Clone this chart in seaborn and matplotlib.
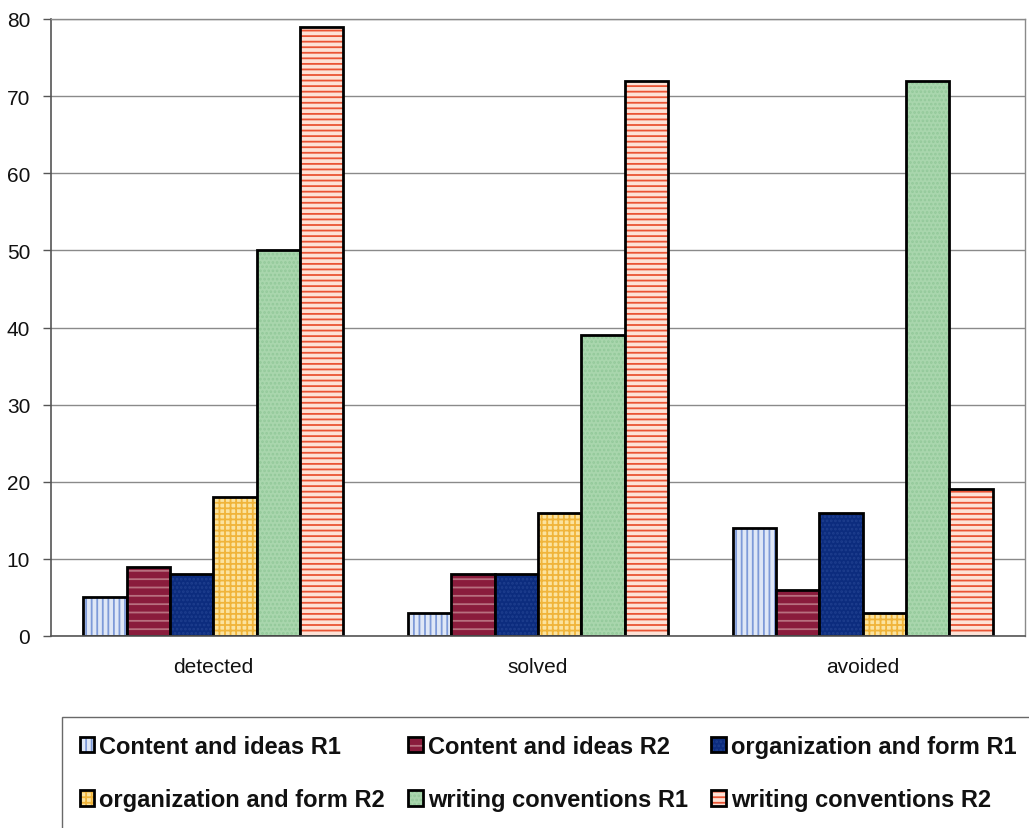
import matplotlib
matplotlib.use("Agg")
import matplotlib.pyplot as plt
import seaborn as sns
import pandas as pd

categories = ["detected", "solved", "avoided"]
series = ["Content and ideas R1", "Content and ideas R2", "organization and form R1",
          "organization and form R2", "writing conventions R1", "writing conventions R2"]
content_r1 = [5, 3, 14]
content_r2 = [9, 8, 6]
org_r1 = [8, 8, 16]
org_r2 = [18, 16, 3]
writing_r1 = [50, 39, 72]
writing_r2 = [79, 72, 19]
yticks = [0, 10, 20, 30, 40, 50, 60, 70, 80]

values = [content_r1, content_r2, org_r1, org_r2, writing_r1, writing_r2]
rows = []
for s, vals in zip(series, values):
    for c, v in zip(categories, vals):
        rows.append({"category": c, "series": s, "value": v})
df = pd.DataFrame(rows)

face_colors = ["#dfe7f6", "#8a1c3c", "#0c2c7e", "#fbe3a0", "#a9d6ad", "#fde2d6"]
hatch_colors = ["#7e9ad8", "#b8707f", "#1e3e8e", "#f0b43a", "#93c99a", "#ea5434"]
hatches = ["|||", "--", "....", "+++", "....", "---"]

sns.set_style("white")
plt.rcParams["font.family"] = ["Liberation Sans", "DejaVu Sans"]
plt.rcParams["hatch.linewidth"] = 1.3

fig = plt.figure(figsize=(10.29, 8.29), dpi=100, facecolor="white")
ax = fig.add_axes([51 / 1029, 1 - 637 / 829, (1025 - 51) / 1029, (637 - 20) / 829])

sns.barplot(data=df, x="category", y="value", hue="series", order=categories,
            hue_order=series, palette=face_colors, saturation=1, width=0.8,
            edgecolor="black", linewidth=2.0, ax=ax, legend=False, errorbar=None)

for cont, h, hc in zip(ax.containers, hatches, hatch_colors):
    for p in cont:
        p.set_hatch(h)
        p.set_edgecolor("black")
        p._hatch_color = matplotlib.colors.to_rgba(hc)

ax.set_ylim(0, 80)
ax.set_xlim(-0.5, 2.5)
ax.set_yticks(yticks)
ax.set_yticklabels([str(t) for t in yticks], fontsize=15, color="#111111")
ax.yaxis.grid(True, color="#8a8a8a", linewidth=1.0)
ax.set_axisbelow(True)
ax.set_xlabel("")
ax.set_ylabel("")
ax.tick_params(axis="x", which="major", length=0, pad=15, labelsize=15, labelcolor="#111111")
ax.set_xticks([-0.5, 0.5, 1.5, 2.5], minor=True)
ax.tick_params(axis="x", which="minor", direction="inout", length=10, width=1, color="#555555")
ax.tick_params(axis="y", which="major", direction="out", length=6, width=1, color="#555555",
               pad=9, left=True)

for side in ["left", "bottom"]:
    ax.spines[side].set_color("#555555")
    ax.spines[side].set_linewidth(1.2)
ax.spines["right"].set_color("#8a8a8a")
ax.spines["right"].set_linewidth(1.0)
ax.spines["top"].set_color("#8a8a8a")
ax.spines["top"].set_linewidth(1.0)

handles = list(ax.containers)
order = [0, 3, 1, 4, 2, 5]
leg = fig.legend([handles[i] for i in order], [series[i] for i in order],
                 loc="upper left", bbox_to_anchor=(62 / 1029, 1 - 718 / 829),
                 bbox_transform=fig.transFigure, ncol=3, frameon=True, fancybox=False,
                 edgecolor="#444444", borderpad=0.75, borderaxespad=0.0, labelspacing=1.3,
                 handlelength=0.62, handleheight=0.62, handletextpad=0.2,
                 columnspacing=1.0, prop={"size": 17, "weight": "bold"})
leg.get_frame().set_linewidth(1.0)
for t in leg.get_texts():
    t.set_color("#111111")

fig.savefig("out.png", dpi=100, facecolor="white")
